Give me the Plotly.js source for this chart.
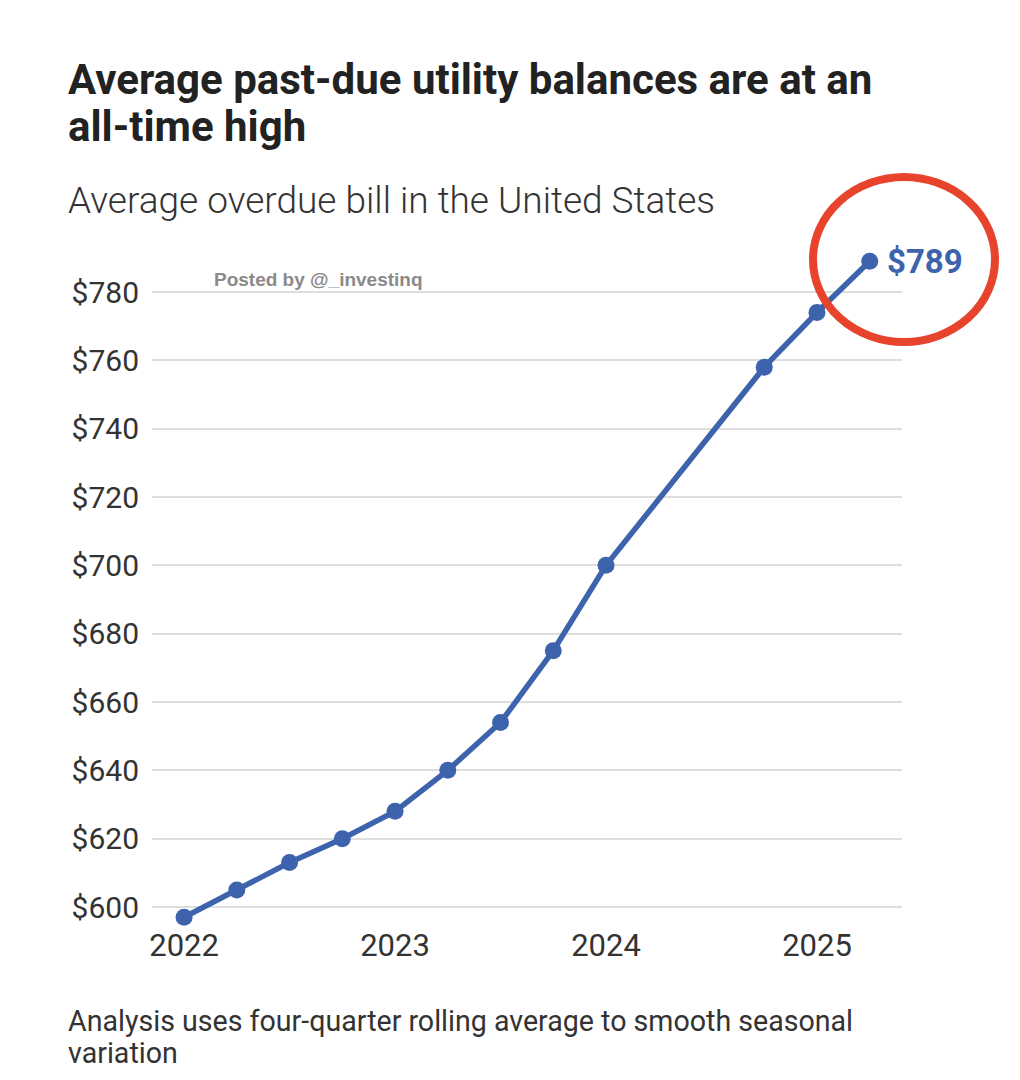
<!DOCTYPE html>
<html>
<head>
<meta charset="utf-8">
<script src="https://cdn.plot.ly/plotly-3.0.1.min.js"></script>
<style>html,body{margin:0;padding:0;background:#fff;}#chart{width:1020px;height:1080px;}</style>
</head>
<body>
<div id="chart"></div>
<script>
// Quarterly observations (decimal year) and average overdue bill ($)
const quarters = [2022.0, 2022.25, 2022.5, 2022.75, 2023.0, 2023.25, 2023.5, 2023.75, 2024.0, 2024.75, 2025.0, 2025.25];
const overdueBill = [597, 605, 613, 620, 628, 640, 654, 675, 700, 758, 774, 789];
const xTickVals = [2022, 2023, 2024, 2025];
const xTickText = ['2022', '2023', '2024', '2025'];
const yTickVals = [600, 620, 640, 660, 680, 700, 720, 740, 760, 780];
const yTickText = yTickVals.map(v => '$' + v);
const titleLines = ['Average past-due utility balances are at an', 'all-time high'];
const subtitle = 'Average overdue bill in the United States';
const footLines = ['Analysis uses four-quarter rolling average to smooth seasonal', 'variation'];

const L = 152, R = 902, T = 240, B = 922, W = 1020, H = 1080;
const px = x => (x - L) / (R - L);
const py = y => (B - y) / (B - T);

const blue = '#3d63ad';
const lastX = quarters[quarters.length - 1];
const lastY = overdueBill[overdueBill.length - 1];

const trace = {
  x: quarters, y: overdueBill, type: 'scatter', mode: 'lines+markers',
  line: {color: blue, width: 5.5},
  marker: {color: blue, size: 17},
  hoverinfo: 'skip', cliponaxis: false
};

const txt = (x, y, text, font, extra) => Object.assign({
  xref: 'paper', yref: 'paper', x: px(x), y: py(y), xanchor: 'left', yanchor: 'middle',
  align: 'left', showarrow: false, text: text, font: font
}, extra || {});

const layout = {
  width: W, height: H,
  margin: {l: L, r: W - R, t: T, b: H - B},
  paper_bgcolor: '#ffffff', plot_bgcolor: '#ffffff',
  showlegend: false,
  font: {family: 'Roboto, "Liberation Sans", sans-serif', color: '#333'},
  xaxis: {
    range: [2021.848, 2025.403], tickvals: xTickVals, ticktext: xTickText,
    showgrid: false, zeroline: false, showline: false, ticks: '',
    tickfont: {size: 31, color: '#333', family: 'Roboto, sans-serif'},
    ticklabelstandoff: 2, fixedrange: true
  },
  yaxis: {
    range: [595.61, 795.22], tickvals: yTickVals, ticktext: yTickText,
    showgrid: true, gridcolor: '#dedede', gridwidth: 2, zeroline: false, showline: false, ticks: '',
    tickfont: {size: 30, color: '#333', family: 'Roboto, sans-serif'},
    ticklabelstandoff: 12, fixedrange: true
  },
  shapes: [{
    type: 'circle', xref: 'paper', yref: 'paper', layer: 'above',
    x0: px(813), x1: px(995), y0: py(342), y1: py(177),
    line: {color: '#e8432d', width: 8}
  }],
  annotations: [
    txt(66, 79, '<b>' + titleLines[0] + '</b>', {size: 42, color: '#222', family: 'Roboto, sans-serif'}),
    txt(66, 127, '<b>' + titleLines[1] + '</b>', {size: 42, color: '#222', family: 'Roboto, sans-serif'}),
    txt(66, 200, subtitle, {size: 37, color: '#333', family: 'Roboto, sans-serif', weight: 300}),
    txt(212, 280, '<b>Posted by @_investinq</b>', {size: 19, color: '#8a8a8a', family: '"Liberation Sans", Arial, sans-serif'}),
    {xref: 'x', yref: 'y', x: lastX, y: lastY, xanchor: 'left', yanchor: 'middle', xshift: 15,
     showarrow: false, text: '<b>$' + lastY + '</b>',
     font: {size: 33, color: blue, family: 'Roboto, sans-serif'}},
    txt(66, 1021, footLines[0], {size: 28.6, color: '#333', family: 'Roboto, sans-serif'}),
    txt(66, 1053, footLines[1], {size: 28.6, color: '#333', family: 'Roboto, sans-serif'})
  ]
};

Plotly.newPlot('chart', [trace], layout, {staticPlot: true, displayModeBar: false});
</script>
</body>
</html>
